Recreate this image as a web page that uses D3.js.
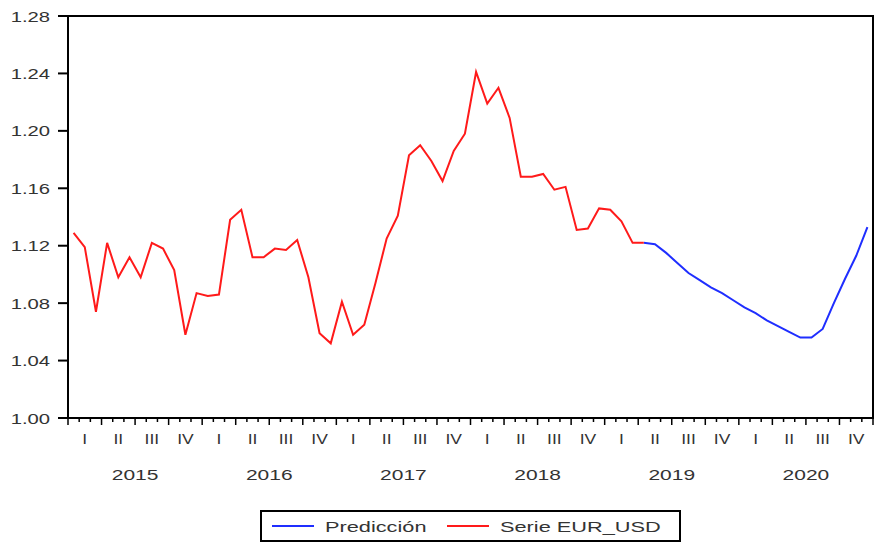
<!DOCTYPE html>
<html>
<head>
<meta charset="utf-8">
<script src="https://cdn.jsdelivr.net/npm/d3@7"></script>
<style>
    body { margin: 0; background: #fff; }
    text { font-family: "Liberation Sans", Arial, sans-serif; fill: #333; }
</style>
</head>
<body>
<div id="viz"></div>
<script>
// monthly values, Jan 2015 .. Apr 2019
const serieEurUsd = [
    1.129, 1.119, 1.074, 1.122, 1.098, 1.112, 1.098, 1.122, 1.118, 1.103, 1.058, 1.087,
    1.085, 1.086, 1.138, 1.145, 1.112, 1.112, 1.118, 1.117, 1.124, 1.098, 1.059, 1.052,
    1.081, 1.058, 1.065, 1.094, 1.125, 1.141, 1.183, 1.190, 1.179, 1.165, 1.186, 1.198,
    1.241, 1.219, 1.230, 1.209, 1.168, 1.168, 1.170, 1.159, 1.161, 1.131, 1.132, 1.146,
    1.145, 1.137, 1.122, 1.122
];
// Apr 2019 .. Dec 2020
const prediccion = [
    1.122, 1.121, 1.115, 1.108, 1.101, 1.096, 1.091, 1.087, 1.082,
    1.077, 1.073, 1.068, 1.064, 1.060, 1.056, 1.056, 1.062, 1.080, 1.097, 1.113, 1.133
];
const predStart = 51; // month index of first forecast value
const years = ['2015', '2016', '2017', '2018', '2019', '2020'];
const quarterLabels = ['I', 'II', 'III', 'IV'];
const yTicks = [1.00, 1.04, 1.08, 1.12, 1.16, 1.20, 1.24, 1.28];
const legendItems = [
    { label: 'Predicción', color: '#1f2eff' },
    { label: 'Serie EUR_USD', color: '#ff1a1a' }
];

const width = 884,
    height = 550,
    plotLeft = 68,
    plotRight = 873,
    plotTop = 16,
    plotBottom = 418;

let svg, x, y;

function stretchedText(parent, px, py, str, anchor, size, sx) {
    parent.append('g')
        .attr('transform', `translate(${px},${py}) scale(${sx},1)`)
        .append('text')
        .attr('text-anchor', anchor)
        .style('font-size', size + 'px')
        .text(str);
}

function drawAxes() {
    const g = svg.append('g');

    // y ticks + labels
    yTicks.forEach(t => {
        g.append('line')
            .attr('x1', plotLeft - 10).attr('x2', plotLeft)
            .attr('y1', y(t)).attr('y2', y(t))
            .attr('stroke', '#000').attr('stroke-width', 2);
        stretchedText(g, plotLeft - 18, y(t) + 5.5, d3.format('.2f')(t), 'end', 15, 1.35);
    });

    // month ticks, longer at quarter boundaries
    d3.range(0, years.length * 12 + 1).forEach(m => {
        g.append('line')
            .attr('x1', x(m)).attr('x2', x(m))
            .attr('y1', plotBottom).attr('y2', plotBottom + (m % 3 === 0 ? 7 : 4))
            .attr('stroke', '#000').attr('stroke-width', 1.5);
    });

    years.forEach((yr, yi) => {
        quarterLabels.forEach((q, qi) => {
            const mid = yi * 12 + qi * 3 + 1.5;
            stretchedText(g, x(mid), 444, q, 'middle', 14, 1.25);
        });
        stretchedText(g, x(yi * 12 + 6), 480, yr, 'middle', 15, 1.4);
    });

    // frame
    g.append('rect')
        .attr('x', plotLeft).attr('y', plotTop)
        .attr('width', plotRight - plotLeft).attr('height', plotBottom - plotTop)
        .attr('fill', 'none')
        .attr('stroke', '#000').attr('stroke-width', 2);
}

function drawLines() {
    const line = d3.line()
        .x(d => x(d.i + 0.5))
        .y(d => y(d.v));

    const red = serieEurUsd.map((v, i) => ({ i, v }));
    const blue = prediccion.map((v, i) => ({ i: i + predStart, v }));

    svg.append('path')
        .datum(blue)
        .attr('d', line)
        .attr('fill', 'none')
        .attr('stroke', legendItems[0].color)
        .attr('stroke-width', 2);

    svg.append('path')
        .datum(red)
        .attr('d', line)
        .attr('fill', 'none')
        .attr('stroke', legendItems[1].color)
        .attr('stroke-width', 2);
}

function drawLegend() {
    const g = svg.append('g');

    g.append('rect')
        .attr('x', 261).attr('y', 511)
        .attr('width', 419).attr('height', 30)
        .attr('fill', '#fff')
        .attr('stroke', '#000').attr('stroke-width', 2);

    const offsets = [272, 447];
    legendItems.forEach((item, k) => {
        g.append('line')
            .attr('x1', offsets[k]).attr('x2', offsets[k] + 42)
            .attr('y1', 526).attr('y2', 526)
            .attr('stroke', item.color).attr('stroke-width', 2);
        stretchedText(g, offsets[k] + 53, 531.5, item.label, 'start', 15, 1.45);
    });
}

svg = d3.select('#viz').append('svg')
    .attr('width', width)
    .attr('height', height);

x = d3.scaleLinear().domain([0, years.length * 12]).range([plotLeft, plotRight]);
y = d3.scaleLinear().domain([1.00, 1.28]).range([plotBottom, plotTop]);

drawLines();
drawAxes();
drawLegend();
</script>
</body>
</html>
